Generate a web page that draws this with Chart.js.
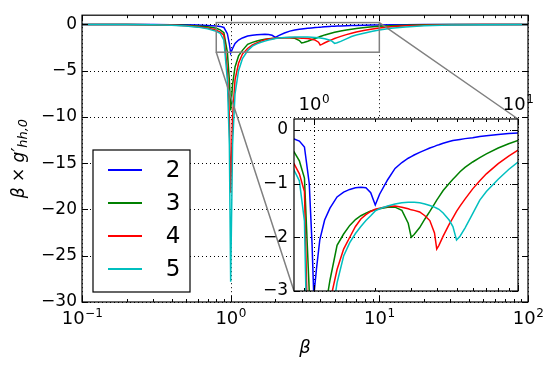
<!DOCTYPE html>
<html lang="en">
<head>
<meta charset="UTF-8" />
<title>beta x g' hh,0</title>
<script src="https://cdn.jsdelivr.net/npm/chart.js"></script>
<style>
    body { margin: 0; background: #fff; }
    #wrap { position: relative; width: 550px; height: 366px; }
    #wrap canvas { position: absolute; left: 0; top: 0; }
    #inset { pointer-events: none; }
</style>
</head>
<body>
<div id="wrap">
    <canvas id="main" width="550" height="366"></canvas>
    <canvas id="inset" width="550" height="366"></canvas>
</div>
<script>
// beta values (shared x for every curve)
const beta = [0.1, 0.2, 0.3, 0.4, 0.5, 0.6, 0.7, 0.8, 0.85, 0.9, 0.95, 0.98, 1.0, 1.03, 1.07, 1.13,
    1.2, 1.3, 1.4, 1.5, 1.6, 1.7, 1.8, 1.9, 2.0, 2.1, 2.3, 2.5, 2.7, 2.9, 3.0, 3.1, 3.3, 3.5, 3.7, 3.9,
    4.0, 4.1, 4.3, 4.6, 4.8, 5.0, 5.2, 5.5, 6, 6.5, 7, 8, 9, 10, 12, 15, 20, 30, 50, 100];

// beta * g'_{hh,0} for n = 2..5
const g2 = [0, -0.005, -0.01, -0.02, -0.04, -0.07, -0.11, -0.17, -0.21, -0.32, -1.0, -2.1, -3.1, -2.6, -2.05, -1.68,
    -1.46, -1.25, -1.16, -1.11, -1.08, -1.07, -1.08, -1.17, -1.40, -1.2, -0.93, -0.72, -0.61, -0.53, -0.5, -0.47, -0.42, -0.38, -0.34, -0.31,
    -0.29, -0.28, -0.25, -0.22, -0.2, -0.19, -0.18, -0.165, -0.15, -0.125, -0.11, -0.09, -0.07, -0.06, -0.04, -0.025, -0.015, -0.006, -0.002, 0];
const g3 = [0, -0.01, -0.02, -0.05, -0.09, -0.16, -0.26, -0.41, -0.58, -0.9, -3.0, -6.0, -9.3, -6.5, -4.6, -3.4,
    -2.8, -2.15, -1.94, -1.78, -1.67, -1.6, -1.55, -1.51, -1.49, -1.47, -1.44, -1.44, -1.5, -1.74, -2.0, -1.95, -1.82, -1.66, -1.52, -1.38,
    -1.31, -1.25, -1.13, -1.0, -0.92, -0.85, -0.78, -0.7, -0.6, -0.52, -0.45, -0.34, -0.26, -0.2, -0.13, -0.075, -0.04, -0.015, -0.005, -0.001];
const g4 = [0, -0.01, -0.03, -0.07, -0.13, -0.24, -0.39, -0.63, -0.82, -1.15, -5.0, -10, -18.2, -10, -6, -4.2,
    -3.2, -2.6, -2.22, -2.0, -1.8, -1.66, -1.58, -1.52, -1.48, -1.46, -1.43, -1.42, -1.44, -1.47, -1.49, -1.5, -1.53, -1.6, -1.69, -1.92,
    -2.22, -2.15, -1.98, -1.76, -1.64, -1.52, -1.42, -1.29, -1.1, -0.95, -0.82, -0.63, -0.49, -0.38, -0.25, -0.15, -0.08, -0.035, -0.012, -0.002];
const g5 = [0, -0.01, -0.04, -0.09, -0.16, -0.29, -0.47, -0.75, -0.95, -1.7, -6, -13, -27.8, -13, -7.5, -5,
    -3.7, -2.85, -2.35, -2.1, -1.93, -1.8, -1.69, -1.6, -1.51, -1.47, -1.42, -1.38, -1.36, -1.35, -1.35, -1.35, -1.36, -1.38, -1.41, -1.44,
    -1.46, -1.48, -1.55, -1.68, -1.8, -2.05, -1.98, -1.83, -1.56, -1.31, -1.15, -0.92, -0.74, -0.6, -0.42, -0.27, -0.15, -0.07, -0.025, -0.005];

const seriesLabels = ['2', '3', '4', '5'];
const seriesValues = [g2, g3, g4, g5];
const seriesColors = ['#0000ff', '#008000', '#ff0000', '#00bfbf'];

// axes ranges and ticks
const mainXRange = [0.1, 100];
const mainYRange = [-30, 1];
const mainXTicks = [0.1, 1, 10, 100];
const mainYTicks = [0, -5, -10, -15, -20, -25, -30];
const insetXRange = [0.8, 10];
const insetYRange = [-3, 0.2];
const insetXTicks = [1, 10];
const insetYTicks = [0, -1, -2, -3];

const FONT = 'DejaVu Sans';
Chart.defaults.font.family = FONT;
Chart.defaults.color = '#000';

const numLabel = v => (v < 0 ? '\u2212' + (-v) : String(v));
const expLabel = v => numLabel(Math.round(Math.log10(v)));

// minor ticks of a log axis: 2..9 x 10^k inside (min, max)
function logMinors(min, max) {
    const out = [];
    for (let d = Math.floor(Math.log10(min)); d <= Math.ceil(Math.log10(max)); d++) {
        for (let k = 2; k <= 9; k++) {
            const v = k * Math.pow(10, d);
            if (v > min * 1.0001 && v < max * 0.9999) out.push(v);
        }
    }
    return out;
}

function makeDatasets() {
    return seriesValues.map((vals, i) => ({
        label: seriesLabels[i],
        data: beta.map((b, j) => ({ x: b, y: vals[j] })),
        borderColor: seriesColors[i],
        borderWidth: 1.5,
        pointRadius: 0,
        tension: 0,
        fill: false,
        order: seriesValues.length - i
    }));
}

// dotted grid, inward ticks, full frame
const axesDeco = {
    id: 'axesDeco',
    beforeDatasetsDraw(chart, args, o) {
        const { ctx, chartArea: a, scales: { x, y } } = chart;
        ctx.save();
        if (o.background) {
            ctx.fillStyle = '#fff';
            ctx.fillRect(a.left, a.top, a.width, a.height);
        }
        ctx.strokeStyle = '#000';
        ctx.lineWidth = 1;
        ctx.setLineDash([1, 3]);
        ctx.beginPath();
        o.xMajor.forEach(v => {
            const p = Math.round(x.getPixelForValue(v)) + 0.5;
            ctx.moveTo(p, a.top); ctx.lineTo(p, a.bottom);
        });
        o.yMajor.forEach(v => {
            const p = Math.round(y.getPixelForValue(v)) + 0.5;
            ctx.moveTo(a.left, p); ctx.lineTo(a.right, p);
        });
        ctx.stroke();
        ctx.restore();
    },
    afterDatasetsDraw(chart, args, o) {
        const { ctx, chartArea: a, scales: { x, y } } = chart;
        ctx.save();
        ctx.strokeStyle = '#000';
        ctx.lineWidth = 1;
        ctx.beginPath();
        const xt = (vals, len) => vals.forEach(v => {
            const p = Math.round(x.getPixelForValue(v)) + 0.5;
            ctx.moveTo(p, a.bottom); ctx.lineTo(p, a.bottom - len);
            ctx.moveTo(p, a.top); ctx.lineTo(p, a.top + len);
        });
        const yt = (vals, len) => vals.forEach(v => {
            const p = Math.round(y.getPixelForValue(v)) + 0.5;
            ctx.moveTo(a.left, p); ctx.lineTo(a.left + len, p);
            ctx.moveTo(a.right, p); ctx.lineTo(a.right - len, p);
        });
        xt(o.xMajor, 6);
        xt(o.xMinor, 3);
        yt(o.yMajor, 6);
        ctx.stroke();
        ctx.lineWidth = 1.2;
        ctx.strokeRect(a.left, a.top, a.width, a.height);
        ctx.restore();
    },
    // 10^k labels drawn with a real raised exponent
    afterDraw(chart, args, o) {
        const { ctx, chartArea: a, scales: { x } } = chart;
        const base = o.labelSide === 'top' ? a.top - 9 : a.bottom + 22;
        ctx.save();
        ctx.fillStyle = '#000';
        ctx.textBaseline = 'alphabetic';
        ctx.textAlign = 'left';
        o.xMajor.forEach(v => {
            const exp = expLabel(v);
            ctx.font = '18px "' + FONT + '"';
            const w1 = ctx.measureText('10').width;
            ctx.font = '12px "' + FONT + '"';
            const w2 = ctx.measureText(exp).width;
            const left = x.getPixelForValue(v) - (w1 + w2) / 2;
            ctx.font = '18px "' + FONT + '"';
            ctx.fillText('10', left, base);
            ctx.font = '12px "' + FONT + '"';
            ctx.fillText(exp, left + w1 + 0.5, base - 7);
        });
        ctx.restore();
    }
};

// grey rectangle marking the zoomed region
const zoomBox = {
    id: 'zoomBox',
    afterDatasetsDraw(chart) {
        const { ctx, scales: { x, y } } = chart;
        const x0 = x.getPixelForValue(insetXRange[0]), x1 = x.getPixelForValue(insetXRange[1]);
        const y0 = y.getPixelForValue(insetYRange[1]), y1 = y.getPixelForValue(insetYRange[0]);
        ctx.save();
        ctx.strokeStyle = '#808080';
        ctx.lineWidth = 1.5;
        ctx.strokeRect(x0, y0, x1 - x0, y1 - y0);
        ctx.restore();
    }
};

// legend box in the lower left of the axes
const boxLegend = {
    id: 'boxLegend',
    afterDraw(chart) {
        const { ctx, chartArea: a } = chart;
        const dsets = chart.data.datasets;
        const left = a.left + 11, w = 97, rowH = 33;
        const h = 142, top = a.bottom - 10 - h;
        ctx.save();
        ctx.fillStyle = '#fff';
        ctx.fillRect(left, top, w, h);
        ctx.strokeStyle = '#000';
        ctx.lineWidth = 1.2;
        ctx.strokeRect(left, top, w, h);
        ctx.font = '23px "' + FONT + '"';
        ctx.textAlign = 'center';
        ctx.textBaseline = 'middle';
        dsets.forEach((ds, i) => {
            const yy = top + 20 + i * rowH;
            ctx.strokeStyle = ds.borderColor;
            ctx.lineWidth = 2;
            ctx.beginPath();
            ctx.moveTo(left + 15, yy); ctx.lineTo(left + 49, yy);
            ctx.stroke();
            ctx.fillStyle = '#000';
            ctx.fillText(ds.label, left + 80, yy + 1);
        });
        ctx.restore();
    }
};

// y-axis title with a real subscript
const yTitle = {
    id: 'yTitle',
    afterDraw(chart) {
        const { ctx, chartArea: a } = chart;
        const parts = [
            { t: '\u03B2 \u00D7 ', f: 'italic 17px "' + FONT + '"', dy: 0 },
            { t: 'g\u2032', f: 'italic 17px "' + FONT + '"', dy: 0 },
            { t: 'hh,0', f: 'italic 13px "' + FONT + '"', dy: 4 }
        ];
        ctx.save();
        ctx.translate(20, (a.top + a.bottom) / 2);
        ctx.rotate(-Math.PI / 2);
        let total = 0;
        parts.forEach(p => { ctx.font = p.f; p.w = ctx.measureText(p.t).width; total += p.w; });
        let cx = -total / 2;
        ctx.fillStyle = '#000';
        ctx.textBaseline = 'middle';
        parts.forEach(p => { ctx.font = p.f; ctx.fillText(p.t, cx, p.dy); cx += p.w; });
        ctx.restore();
    }
};

const tickFont = { family: FONT, size: 17 };

const mainChart = new Chart(document.getElementById('main'), {
    type: 'line',
    data: { datasets: makeDatasets() },
    options: {
        responsive: false,
        animation: false,
        devicePixelRatio: 1,
        layout: { padding: { left: 0, top: 15, right: 22, bottom: 0 } },
        plugins: {
            legend: { display: false },
            tooltip: { enabled: false },
            axesDeco: {
                labelSide: 'bottom',
                xMajor: mainXTicks, xMinor: logMinors(mainXRange[0], mainXRange[1]), yMajor: mainYTicks
            }
        },
        scales: {
            x: {
                type: 'logarithmic',
                min: mainXRange[0],
                max: mainXRange[1],
                grid: { display: false, drawTicks: false },
                border: { display: false },
                afterBuildTicks: s => { s.ticks = mainXTicks.map(v => ({ value: v })); },
                afterFit: s => { s.height = 64; },
                ticks: { display: false },
                title: { display: true, text: '\u03B2', font: { family: FONT, size: 18, style: 'italic' }, padding: 7 }
            },
            y: {
                type: 'linear',
                min: mainYRange[0],
                max: mainYRange[1],
                grid: { display: false, drawTicks: false },
                border: { display: false },
                afterBuildTicks: s => { s.ticks = mainYTicks.map(v => ({ value: v })); },
                afterFit: s => { s.width = 82; },
                ticks: { padding: 5, font: tickFont, callback: v => numLabel(v) }
            }
        }
    },
    plugins: [axesDeco, zoomBox, boxLegend, yTitle]
});

// grey lines from the zoom box to the inset corners
const connectors = {
    id: 'connectors',
    beforeDraw(chart) {
        const { ctx, chartArea: a } = chart;
        const mx = mainChart.scales.x, my = mainChart.scales.y;
        ctx.save();
        ctx.strokeStyle = '#808080';
        ctx.lineWidth = 1.5;
        ctx.beginPath();
        ctx.moveTo(mx.getPixelForValue(insetXRange[0]), my.getPixelForValue(insetYRange[0]));
        ctx.lineTo(a.left, a.bottom);
        ctx.moveTo(mx.getPixelForValue(insetXRange[1]), my.getPixelForValue(insetYRange[1]));
        ctx.lineTo(a.right, a.top);
        ctx.stroke();
        ctx.restore();
    }
};

new Chart(document.getElementById('inset'), {
    type: 'line',
    data: { datasets: makeDatasets() },
    options: {
        responsive: false,
        animation: false,
        devicePixelRatio: 1,
        layout: { padding: { left: 264, top: 89, right: 32, bottom: 75 } },
        plugins: {
            legend: { display: false },
            tooltip: { enabled: false },
            axesDeco: {
                background: true,
                labelSide: 'top',
                xMajor: insetXTicks, xMinor: logMinors(insetXRange[0], insetXRange[1]), yMajor: insetYTicks
            }
        },
        scales: {
            x: {
                type: 'logarithmic',
                position: 'top',
                min: insetXRange[0],
                max: insetXRange[1],
                grid: { display: false, drawTicks: false },
                border: { display: false },
                afterBuildTicks: s => { s.ticks = insetXTicks.map(v => ({ value: v })); },
                afterFit: s => { s.height = 30; },
                ticks: { display: false }
            },
            y: {
                type: 'linear',
                min: insetYRange[0],
                max: insetYRange[1],
                grid: { display: false, drawTicks: false },
                border: { display: false },
                afterBuildTicks: s => { s.ticks = insetYTicks.map(v => ({ value: v })); },
                afterFit: s => { s.width = 30; },
                ticks: { padding: 6, font: tickFont, callback: v => numLabel(v) }
            }
        }
    },
    plugins: [connectors, axesDeco]
});
</script>
</body>
</html>
